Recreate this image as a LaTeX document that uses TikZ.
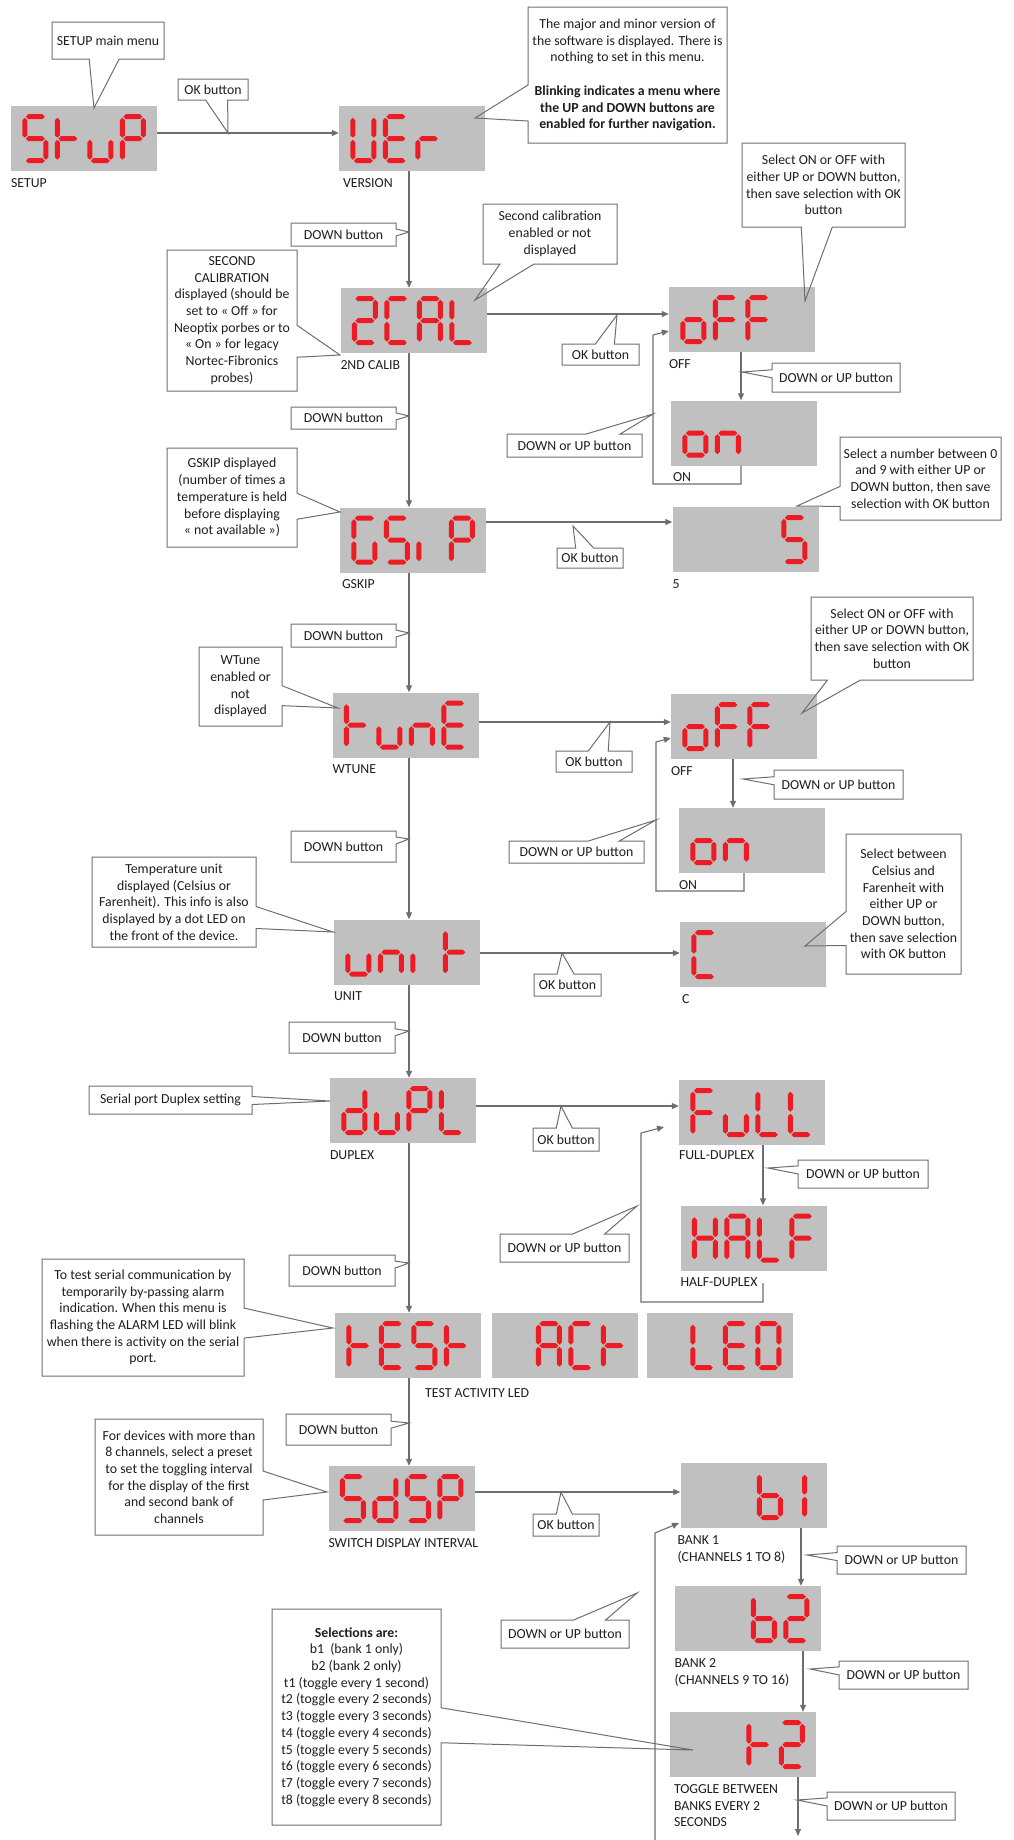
\documentclass[tikz,border=0pt]{standalone}
\usepackage{fontspec}
\setmainfont{Carlito}
\usetikzlibrary{arrows.meta,calc,shapes.callouts}
\definecolor{lcdgray}{RGB}{192,192,192}
\definecolor{segred}{RGB}{237,28,36}
\definecolor{wire}{RGB}{110,110,110}
\definecolor{ink}{RGB}{30,30,30}
\newcommand{\notefont}{\fontsize{13.8}{16.7}\selectfont}

% seven segment bars of one digit cell (pointed ends)
\def\sega{(1,44) -- (3.5,46.5) -- (17.5,46.5) -- (20,44) -- (17.5,41.5) -- (3.5,41.5) -- cycle}
\def\segb{(21,43) -- (23.5,40.5) -- (23.5,25.5) -- (21,23) -- (18.5,25.5) -- (18.5,40.5) -- cycle}
\def\segc{(21,21) -- (23.5,18.5) -- (23.5,3.5) -- (21,1) -- (18.5,3.5) -- (18.5,18.5) -- cycle}
\def\segd{(1,0) -- (3.5,2.5) -- (17.5,2.5) -- (20,0) -- (17.5,-2.5) -- (3.5,-2.5) -- cycle}
\def\sege{(0,1) -- (2.5,3.5) -- (2.5,18.5) -- (0,21) -- (-2.5,18.5) -- (-2.5,3.5) -- cycle}
\def\segf{(0,23) -- (2.5,25.5) -- (2.5,40.5) -- (0,43) -- (-2.5,40.5) -- (-2.5,25.5) -- cycle}
\def\segg{(1,22) -- (3.5,24.5) -- (17.5,24.5) -- (20,22) -- (17.5,19.5) -- (3.5,19.5) -- cycle}

% glyphs as lists of lit segments
\newcommand{\glyph}[2]{\expandafter\def\csname gl#1\endcsname{#2}}
\glyph{S}{a,c,d,f,g}
\glyph{t}{e,f,g}
\glyph{u}{c,d,e}
\glyph{P}{a,b,e,f,g}
\glyph{U}{b,c,d,e,f}
\glyph{E}{a,d,e,f,g}
\glyph{r}{e,g}
\glyph{2}{a,b,d,e,g}
\glyph{C}{a,d,e,f}
\glyph{A}{a,b,c,e,f,g}
\glyph{L}{d,e,f}
\glyph{G}{a,c,d,e,f}
\glyph{i}{e}
\glyph{o}{c,d,e,g}
\glyph{F}{a,e,f,g}
\glyph{n}{c,e,g}
\glyph{5}{a,c,d,f,g}
\glyph{d}{b,c,d,e,g}
\glyph{H}{b,c,e,f,g}
\glyph{D}{a,b,c,d,e,f}
\glyph{b}{c,d,e,f,g}
\glyph{1}{b,c}

% #1 display node, #2 list of cell/glyph
\newcommand{\lcdtext}[2]{%
  \foreach \pos/\chr in {#2}{%
    \edef\segs{\csname gl\chr\endcsname}%
    \begin{scope}[shift={($(#1.south west)+(14pt+\pos*32.5pt,10.5pt)$)}, x=1pt, y=1pt]
      \foreach \s in \segs {\fill[segred] \csname seg\s\endcsname;}
    \end{scope}}}

\begin{document}
\begin{tikzpicture}[x=1pt, y=-1pt,
    disp/.style={rectangle, fill=lcdgray, minimum width=146pt, minimum height=65pt, inner sep=0pt},
    lbl/.style={anchor=north west, inner sep=0pt, align=left, font=\notefont, text=ink},
    note/.style={rectangle callout, draw=wire, line width=1pt, align=center, inner sep=2pt, font=\notefont, text=ink, callout pointer width=#1},
    note/.default=8pt,
    box/.style 2 args={minimum width=#1, minimum height=#2},
    arr/.style={-{Triangle[length=7pt,width=6pt]}, draw=wire, line width=1.1pt},
]
\useasboundingbox (0,0) rectangle (1013,1840);

% === displays ===
\node[disp] (stup) at (84,138.5) {};
\node[disp] (ver) at (412,138.5) {};
\node[disp] (cal) at (413.5,320.5) {};
\node[disp] (off1) at (742,319.5) {};
\node[disp] (on1) at (744,433) {};
\node[disp] (gsip) at (413,540) {};
\node[disp] (five) at (745.5,539.5) {};
\node[disp] (tune) at (405.5,725) {};
\node[disp] (off2) at (744,726.5) {};
\node[disp] (on2) at (752,840.5) {};
\node[disp] (unit) at (407,952) {};
\node[disp] (cdisp) at (753,954.5) {};
\node[disp] (dupl) at (403,1110.5) {};
\node[disp] (full) at (752,1112.5) {};
\node[disp] (half) at (753.5,1238) {};
\node[disp] (test) at (408,1345.5) {};
\node[disp] (act) at (565,1345.5) {};
\node[disp] (led) at (719.5,1345.5) {};
\node[disp] (sdsp) at (401.5,1498.5) {};
\node[disp] (bone) at (753.5,1495.5) {};
\node[disp] (btwo) at (747.5,1618.5) {};
\node[disp] (ttwo) at (743,1744.5) {};

\lcdtext{stup}{0/S,1/t,2/u,3/P}
\lcdtext{ver}{0/U,1/E,2/r}
\lcdtext{cal}{0/2,1/C,2/A,3/L}
\lcdtext{off1}{0/o,1/F,2/F}
\lcdtext{on1}{0/o,1/n}
\lcdtext{gsip}{0/G,1/S,2/i,3/P}
\lcdtext{five}{3/5}
\lcdtext{tune}{0/t,1/u,2/n,3/E}
\lcdtext{off2}{0/o,1/F,2/F}
\lcdtext{on2}{0/o,1/n}
\lcdtext{unit}{0/u,1/n,2/i,3/t}
\lcdtext{cdisp}{0/C}
\lcdtext{dupl}{0/d,1/u,2/P,3/L}
\lcdtext{full}{0/F,1/u,2/L,3/L}
\lcdtext{half}{0/H,1/A,2/L,3/F}
\lcdtext{test}{0/t,1/E,2/S,3/t}
\lcdtext{act}{1/A,2/C,3/t}
\lcdtext{led}{1/L,2/E,3/D}
\lcdtext{sdsp}{0/S,1/d,2/S,3/P}
\lcdtext{bone}{2/b,2.75/1}
\lcdtext{btwo}{2/b,3/2}
\lcdtext{ttwo}{2/t,3/2}

% === labels under displays ===
\node[lbl] (stuplbl) at ([yshift=-7pt]stup.south west) {SETUP};
\node[lbl] (verlbl) at ([shift={(4pt,-7pt)}]ver.south west) {VERSION};
\node[lbl] (callbl) at ([yshift=-7pt]cal.south west) {2ND CALIB};
\node[lbl] (off1lbl) at ([yshift=-7pt]off1.south west) {OFF};
\node[lbl] (on1lbl) at ([shift={(2pt,-7pt)}]on1.south west) {ON};
\node[lbl] (gsiplbl) at ([shift={(2pt,-7pt)}]gsip.south west) {GSKIP};
\node[lbl] (fivelbl) at ([yshift=-7pt]five.south west) {5};
\node[lbl] (tunelbl) at ([yshift=-7pt]tune.south west) {WTUNE};
\node[lbl] (off2lbl) at ([yshift=-7pt]off2.south west) {OFF};
\node[lbl] (on2lbl) at ([yshift=-7pt]on2.south west) {ON};
\node[lbl] (unitlbl) at ([yshift=-7pt]unit.south west) {UNIT};
\node[lbl] (clbl) at ([shift={(2pt,-7pt)}]cdisp.south west) {C};
\node[lbl] (dupllbl) at ([yshift=-7pt]dupl.south west) {DUPLEX};
\node[lbl] (fulllbl) at ([yshift=-5pt]full.south west) {FULL-DUPLEX};
\node[lbl] (halflbl) at ([yshift=-7pt]half.south west) {HALF-DUPLEX};
\node[lbl] (testlbl) at (425,1388) {TEST ACTIVITY LED};
\node[lbl] (sdsplbl) at ([yshift=-7pt]sdsp.south west) {SWITCH DISPLAY INTERVAL};
\node[lbl] (bonelbl) at ([shift={(-3pt,-7pt)}]bone.south west) {BANK 1\\(CHANNELS 1 TO 8)};
\node[lbl] (btwolbl) at ([yshift=-7pt]btwo.south west) {BANK 2\\(CHANNELS 9 TO 16)};
\node[lbl] (ttwolbl) at ([shift={(4pt,-7pt)}]ttwo.south west) {TOGGLE BETWEEN\\BANKS EVERY 2\\SECONDS};

% === main menu chain ===
\draw[arr] (stup.east |- 0,133) -- (ver.west |- 0,133);
\draw[arr] (ver.south -| 409,0) -- (cal.north -| 409,0);
\draw[arr] (cal.south -| 409,0) -- (gsip.north -| 409,0);
\draw[arr] (gsip.south -| 409,0) -- (tune.north -| 409,0);
\draw[arr] (tune.south -| 409,0) -- (unit.north -| 409,0);
\draw[arr] (unit.south -| 409,0) -- (dupl.north -| 409,0);
\draw[arr] (dupl.south -| 409,0) -- (test.north -| 409,0);
\draw[arr] (test.south -| 409,0) -- (sdsp.north -| 409,0);

% === sub menus ===
\draw[arr] (cal.east |- 0,314) -- (off1.west |- 0,314);
\draw[arr] (off1.south -| 741,0) -- (on1.north -| 741,0);
\draw[arr] (on1.south -| 741,0) -- (741,484) -- (653,484) -- (653,335) -- (off1.west |- 0,331);

\draw[arr] (gsip.east |- 0,522) -- (five.west |- 0,522);

\draw[arr] (tune.east |- 0,722) -- (off2.west |- 0,722);
\draw[arr] (off2.south -| 733,0) -- (on2.north -| 733,0);
\draw[arr] (on2.south -| 744,0) -- (744,891) -- (656,891) -- (656,742) -- (off2.west |- 0,738);

\draw[arr] (unit.east |- 0,953) -- (cdisp.west |- 0,953);

\coordinate (halfout) at (763,1283);
\coordinate (fullin) at (664,1127);
\draw[arr] (dupl.east |- 0,1106) -- (full.west |- 0,1106);
\draw[arr] (full.south -| 763,0) -- (half.north -| 763,0);
\draw[arr] (halfout) -- (763,1302) -- (641,1302) -- (641,1133) -- (fullin);

\coordinate (ttwoout) at (798,1836);
\coordinate (loopin) at (655,1840);
\coordinate (bonein) at (679,1523);
\draw[arr] (sdsp.east |- 0,1492) -- (bone.west |- 0,1492);
\draw[arr] (bone.south -| 801,0) -- (btwo.north -| 801,0);
\draw[arr] (btwo.south -| 803,0) -- (ttwo.north -| 803,0);
\draw[arr] (ttwo.south -| 798,0) -- (ttwoout);
\draw[arr] (loopin) -- (655,1533) -- (bonein);

% === callouts ===
\node[note=30pt, box={112pt}{37pt}, callout absolute pointer={(94,108)}] (setupnote) at (108,40.5) {SETUP main menu};
\node[note=22pt, box={70pt}{21pt}, callout absolute pointer={(228,133)}] (oknote1) at (213,89.5) {OK button};
\node[note=36pt, box={199pt}{136pt}, callout absolute pointer={(475,118)}] (vernote) at (627.5,75) {The major and minor version of\\the software is displayed. There is\\nothing to set in this menu.\\[16.7pt]\textbf{Blinking indicates a menu where}\\\textbf{the UP and DOWN buttons are}\\\textbf{enabled for further navigation.}};
\node[note=31pt, box={163pt}{84pt}, callout absolute pointer={(805,301)}] (selnote1) at (823.5,185) {Select ON or OFF with\\either UP or DOWN button,\\then save selection with OK\\button};
\node[note=7pt, box={105pt}{23pt}, callout absolute pointer={(409,232)}] (downnote1) at (343.5,234.5) {DOWN button};
\node[note=34pt, box={134pt}{60pt}, callout absolute pointer={(475,300)}] (calnote) at (550,234) {Second calibration\\enabled or not\\displayed};
\node[note=32pt, box={130pt}{141pt}, callout absolute pointer={(340,355)}] (secnote) at (232,320.5) {SECOND\\CALIBRATION\\displayed (should be\\set to « Off » for\\Neoptix porbes or to\\« On » for legacy\\Nortec-Fibronics\\probes)};
\node[note=19pt, box={77pt}{21pt}, callout absolute pointer={(617,315)}] (oknote2) at (600.5,354.5) {OK button};
\node[note=8pt, box={128pt}{29pt}, callout absolute pointer={(742,372)}] (dunote1) at (836,377.5) {DOWN or UP button};
\node[note=34pt, box={135pt}{23pt}, callout absolute pointer={(653,414)}] (dunote2) at (574.5,445.5) {DOWN or UP button};
\node[note=20pt, box={161pt}{83pt}, callout absolute pointer={(797,506)}] (numnote) at (920.5,478.5) {Select a number between 0\\and 9 with either UP or\\DOWN button, then save\\selection with OK button};
\node[note=7pt, box={105pt}{22pt}, callout absolute pointer={(409,416)}] (downnote2) at (343.5,418) {DOWN button};
\node[note=26pt, box={130pt}{99pt}, callout absolute pointer={(340,512)}] (gskipnote) at (232,497.5) {GSKIP displayed\\(number of times a\\temperature is held\\before displaying\\« not available »)};
\node[note=18pt, box={66pt}{20pt}, callout absolute pointer={(573,526)}] (oknote3) at (590,558) {OK button};
\node[note=7pt, box={105pt}{23pt}, callout absolute pointer={(409,633)}] (downnote3) at (343.5,635.5) {DOWN button};
\node[note=20pt, box={83pt}{79pt}, callout absolute pointer={(338,708)}] (wtunenote) at (240.5,686.5) {WTune\\enabled or\\not\\displayed};
\node[note=20pt, box={76pt}{21pt}, callout absolute pointer={(610,722)}] (oknote4) at (594,761.5) {OK button};
\node[note=33pt, box={162pt}{83pt}, callout absolute pointer={(802,713)}] (selnote2) at (892,638.5) {Select ON or OFF with\\either UP or DOWN button,\\then save selection with OK\\button};
\node[note=8pt, box={129pt}{29pt}, callout absolute pointer={(743,779)}] (dunote3) at (838.5,784.5) {DOWN or UP button};
\node[note=31pt, box={135pt}{22pt}, callout absolute pointer={(656,820)}] (dunote4) at (576.5,852) {DOWN or UP button};
\node[note=7pt, box={105pt}{31pt}, callout absolute pointer={(409,839)}] (downnote4) at (343.5,846.5) {DOWN button};
\node[note=22pt, box={164pt}{90pt}, callout absolute pointer={(333,932)}] (tempnote) at (174,902) {Temperature unit\\displayed (Celsius or\\Farenheit). This info is also\\displayed by a dot LED on\\the front of the device.};
\node[note=17pt, box={67pt}{22pt}, callout absolute pointer={(562,953)}] (oknote5) at (567.5,985) {OK button};
\node[note=34pt, box={115pt}{140pt}, callout absolute pointer={(805,946)}] (celnote) at (903.5,904) {Select between\\Celsius and\\Farenheit with\\either UP or\\DOWN button,\\then save selection\\with OK button};
\node[note=7pt, box={106pt}{31pt}, callout absolute pointer={(409,1031)}] (downnote5) at (342,1037.5) {DOWN button};
\node[note=8pt, box={163pt}{28pt}, callout absolute pointer={(330,1101)}] (serialnote) at (170.5,1100) {Serial port Duplex setting};
\node[note=16pt, box={66pt}{23pt}, callout absolute pointer={(561,1106)}] (oknote6) at (566,1139.5) {OK button};
\node[note=8pt, box={130pt}{28pt}, callout absolute pointer={(768,1168)}] (dunote5) at (863,1174) {DOWN or UP button};
\node[note=32pt, box={129pt}{28pt}, callout absolute pointer={(637,1206)}] (dunote6) at (564.5,1248) {DOWN or UP button};
\node[note=7pt, box={106pt}{31pt}, callout absolute pointer={(409,1263)}] (downnote6) at (342,1270.5) {DOWN button};
\node[note=30pt, box={202pt}{117pt}, callout absolute pointer={(333,1328)}] (testnote) at (143,1317.5) {To test serial communication by\\temporarily by-passing alarm\\indication. When this menu is\\flashing the ALARM LED will blink\\when there is activity on the serial\\port.};
\node[note=7pt, box={105pt}{31pt}, callout absolute pointer={(409,1423)}] (downnote7) at (338.5,1429.5) {DOWN button};
\node[note=29pt, box={168pt}{116pt}, callout absolute pointer={(327,1492)}] (devnote) at (179,1477) {For devices with more than\\8 channels, select a preset\\to set the toggling interval\\for the display of the first\\and second bank of\\channels};
\node[note=16pt, box={66pt}{22pt}, callout absolute pointer={(561,1492)}] (oknote7) at (566,1525) {OK button};
\node[note=8pt, box={129pt}{28pt}, callout absolute pointer={(807,1555)}] (dunote7) at (901.5,1560) {DOWN or UP button};
\node[note=32pt, box={128pt}{28pt}, callout absolute pointer={(637,1593)}] (dunote8) at (565,1634) {DOWN or UP button};
\node[note=8pt, box={129pt}{28pt}, callout absolute pointer={(810,1669)}] (dunote9) at (903.5,1675) {DOWN or UP button};
\node[note=35pt, box={169pt}{216pt}, callout absolute pointer={(693,1750)}] (selnote3) at (356.5,1717) {\textbf{Selections are:}\\b1\ \ (bank 1 only)\\b2 (bank 2 only)\\t1 (toggle every 1 second)\\t2 (toggle every 2 seconds)\\t3 (toggle every 3 seconds)\\t4 (toggle every 4 seconds)\\t5 (toggle every 5 seconds)\\t6 (toggle every 6 seconds)\\t7 (toggle every 7 seconds)\\t8 (toggle every 8 seconds)};
\node[note=8pt, box={128pt}{28pt}, callout absolute pointer={(797,1800)}] (dunote10) at (891,1806) {DOWN or UP button};

\end{tikzpicture}
\end{document}
